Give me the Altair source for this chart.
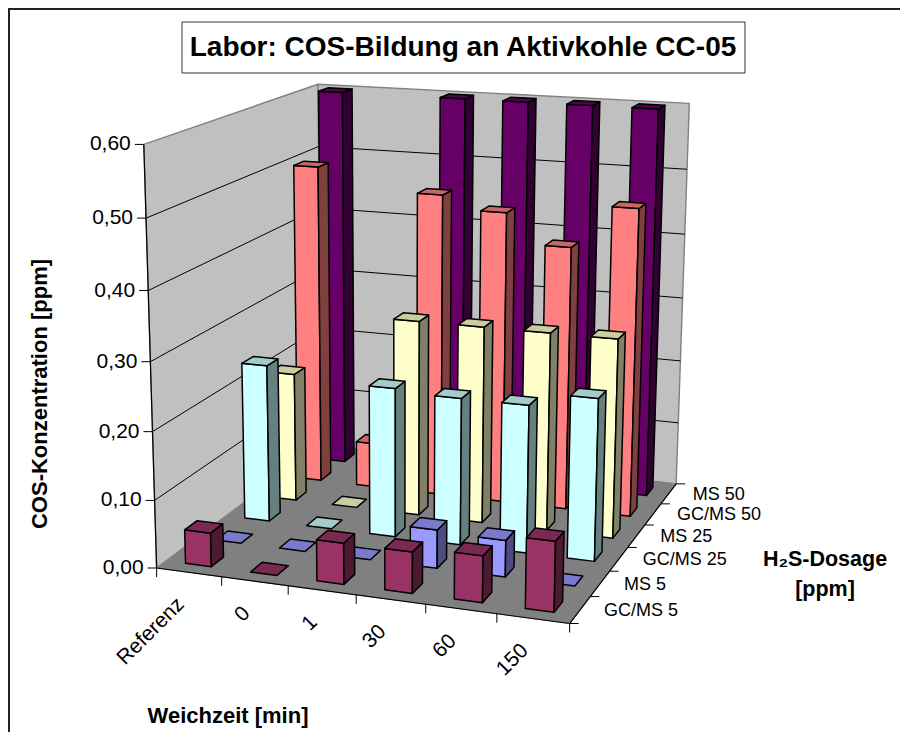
import numpy as np
import altair as alt

W, H = 892, 724
OX, OY = 8, 8

categories = ["Referenz", "0", "1", "30", "60", "150"]
series = ["GC/MS 5", "MS 5", "GC/MS 25", "MS 25", "GC/MS 50", "MS 50"]
colors = ["#993366", "#9999FF", "#CCFFFF", "#FFFFCC", "#FF8080", "#660066"]
gc_ms_5 = [0.05, 0.0, 0.06, 0.06, 0.067, 0.10]
ms_5 = [0.0, 0.0, 0.0, 0.057, 0.054, 0.0]
gc_ms_25 = [0.24, 0.0, 0.225, 0.22, 0.22, 0.24]
ms_25 = [0.20, 0.0, 0.30, 0.30, 0.30, 0.30]
gc_ms_50 = [0.50, 0.07, 0.47, 0.45, 0.405, 0.47]
ms_50 = [0.60, 0.0, 0.60, 0.60, 0.60, 0.60]
values = [gc_ms_5, ms_5, gc_ms_25, ms_25, gc_ms_50, ms_50]
y_ticks = [0.0, 0.1, 0.2, 0.3, 0.4, 0.5, 0.6]
y_labels = ["0,00", "0,10", "0,20", "0,30", "0,40", "0,50", "0,60"]
Y_MAX = 0.6
BAR = 0.4

# camera calibration: cube corners (u, v, w) -> page position
calib = [
    ((0, 0, 0), (158, 567)), ((1, 0, 0), (569, 625)), ((1, 1, 0), (677, 482)),
    ((0, 1, 0), (320, 446)), ((0, 0, 1), (143, 144)), ((0, 1, 1), (319, 84)),
    ((1, 1, 1), (689, 104)),
]
rows = []
for (u, v, w), (x, y) in calib:
    rows.append([u, v, w, 1, 0, 0, 0, 0, -x*u, -x*v, -x*w, -x])
    rows.append([0, 0, 0, 0, u, v, w, 1, -y*u, -y*v, -y*w, -y])
_, _, vt = np.linalg.svd(np.array(rows, float))
P = vt[-1].reshape(3, 4)


def proj(u, v, w):
    a = P @ np.array([u, v, w, 1.0])
    return [float(a[0]/a[2]) - OX, float(a[1]/a[2]) - OY]


def shade(hex_color, k):
    c = [int(hex_color[i:i+2], 16) for i in (1, 3, 5)]
    return "#" + "".join(f"{int(round(x*k)):02x}" for x in c)


features = []


def poly(pts, fill, stroke="#000000", sw=1.5):
    ring = [proj(*p) for p in pts]
    ring.append(ring[0])
    features.append({"type": "Feature", "geometry": {"type": "Polygon", "coordinates": [ring]},
                     "properties": {"fill": fill, "stroke": stroke, "sw": sw}})


def line(pts, stroke="#000000", sw=1.0):
    features.append({"type": "Feature",
                     "geometry": {"type": "LineString", "coordinates": pts},
                     "properties": {"fill": "transparent", "stroke": stroke, "sw": sw}})


def line3(pts, stroke="#000000", sw=1.0):
    line([proj(*p) for p in pts], stroke, sw)


# title box
line([[174, 14], [737, 14], [737, 65], [174, 65], [174, 14]], "#333333", 1.0)

# walls
poly([(0, 0, 0), (0, 1, 0), (0, 1, 1), (0, 0, 1)], "#C0C0C0", "#808080", 1.4)
poly([(0, 1, 0), (1, 1, 0), (1, 1, 1), (0, 1, 1)], "#C0C0C0", "#808080", 1.4)
for t in y_ticks[1:-1]:
    w = t / Y_MAX
    line3([(0, 0, w), (0, 1, w), (1, 1, w)], "#000000", 1.0)
# floor
poly([(0, 0, 0), (1, 0, 0), (1, 1, 0), (0, 1, 0)], "#808080", "#808080", 1.0)

# bars, back to front
n_c, n_s = len(categories), len(series)
off = (1 - BAR) / 2
for j in reversed(range(n_s)):
    for i in range(n_c):
        val = min(values[j][i], Y_MAX) / Y_MAX
        col = colors[j]
        u0, u1 = (i + off) / n_c, (i + 1 - off) / n_c
        v0, v1 = (j + off) / n_s, (j + 1 - off) / n_s
        if val > 0:
            poly([(u0, v0, 0), (u1, v0, 0), (u1, v0, val), (u0, v0, val)], col)
            poly([(u1, v0, 0), (u1, v1, 0), (u1, v1, val), (u1, v0, val)], shade(col, 0.5))
        poly([(u0, v0, val), (u1, v0, val), (u1, v1, val), (u0, v1, val)], shade(col, 0.8))

# axes
line3([(0, 0, 0), (0, 0, 1)], "#000000", 1.2)
line3([(0, 0, 0), (1, 0, 0)], "#000000", 1.2)
line3([(1, 0, 0), (1, 1, 0)], "#000000", 1.2)
for t in y_ticks:
    x, y = proj(0, 0, t / Y_MAX)
    line([[x - 9, y], [x, y]], "#000000", 1.0)
for i in range(n_c + 1):
    x, y = proj(i / n_c, 0, 0)
    line([[x, y], [x, y + 9]], "#000000", 1.0)
for j in range(n_s + 1):
    x, y = proj(1, j / n_s, 0)
    line([[x, y], [x + 9, y]], "#000000", 1.0)

scene = alt.Chart(alt.Data(values=features)).mark_geoshape(strokeJoin="round").encode(
    fill=alt.Fill("properties.fill:N", scale=None),
    stroke=alt.Stroke("properties.stroke:N", scale=None),
    strokeWidth=alt.StrokeWidth("properties.sw:Q", scale=None),
).project(type="identity", scale=1, translate=[0, 0])

X = alt.Scale(domain=[0, W], range=[0, W])
Y = alt.Scale(domain=[0, H], range=[0, H])
FONT = "Liberation Sans"

# outer frame: only its left and top edges fall inside the picture
frame_top = alt.Chart(alt.Data(values=[{"n": 1}])).mark_rule(color="#222222", strokeWidth=2).encode(
    x=alt.value(1), x2=alt.value(W), y=alt.value(1)
)
frame_left = alt.Chart(alt.Data(values=[{"n": 1}])).mark_rule(color="#222222", strokeWidth=2).encode(
    x=alt.value(1), y=alt.value(0), y2=alt.value(H)
)


def texts(items, size, bold=False, align="center", angle=0, baseline="middle", color="#000000"):
    rec = [{"x": x - OX, "y": y - OY, "t": t} for x, y, t in items]
    return alt.Chart(alt.Data(values=rec)).mark_text(
        font=FONT, fontSize=size, fontWeight="bold" if bold else "normal",
        align=align, angle=angle, baseline=baseline, color=color,
    ).encode(
        x=alt.X("x:Q", scale=X, axis=None),
        y=alt.Y("y:Q", scale=Y, axis=None),
        text="t:N",
    )


y_tick_text = [(proj(0, 0, t / Y_MAX)[0] + OX - 13, proj(0, 0, t / Y_MAX)[1] + OY, l)
               for t, l in zip(y_ticks, y_labels)]
cat_text = []
for i, c in enumerate(categories):
    x, y = proj((i + 0.5) / n_c, 0, 0)
    cat_text.append((x + OX - 8, y + OY + 29, c))
ser_text = []
for j, s in enumerate(series):
    x, y = proj(1, (j + 0.5) / n_s, 0)
    ser_text.append((x + OX + 24, y + OY + 1, s))

chart = alt.layer(
    scene,
    texts([(463, 48, "Labor: COS-Bildung an Aktivkohle CC-05")], 28, bold=True),
    texts(y_tick_text, 21, align="right"),
    texts(cat_text, 21, align="right", angle=315),
    texts(ser_text, 18, align="left"),
    texts([(40, 394, "COS-Konzentration [ppm]")], 22, bold=True, angle=270),
    texts([(228, 716, "Weichzeit [min]")], 22, bold=True),
    texts([(825, 560, "H₂S-Dosage"), (825, 590, "[ppm]")], 21.5, bold=True),
    frame_top, frame_left,
).properties(
    width=W, height=H, padding=0, autosize=alt.AutoSizeParams(type="none"),
).configure_view(stroke=None)

chart.save("out.html", embed_options={"renderer": "svg", "actions": False})
